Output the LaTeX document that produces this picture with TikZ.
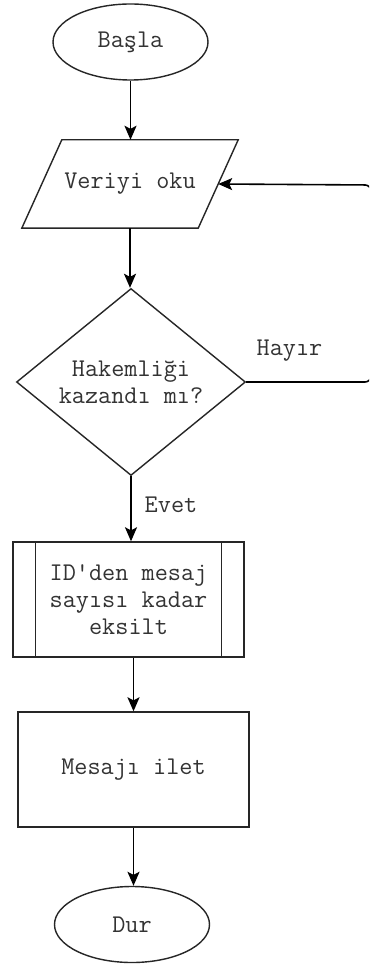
\documentclass[tikz,border=0pt]{standalone}
\usepackage{fontspec}
\usetikzlibrary{shapes.geometric,arrows.meta,calc}
\begin{document}
\begin{tikzpicture}[x=1pt,y=-1pt,
  txt/.style={font=\ttfamily\fontsize{25.5}{27}\selectfont, text=black!80},
  shp/.style={draw=black!85, line width=1.4pt},
  term/.style={txt, shp, ellipse, minimum width=155pt, minimum height=76pt, inner sep=0pt},
  procbox/.style={txt, shp, rectangle, minimum width=231pt, minimum height=115pt, inner sep=0pt, align=center},
  decis/.style={txt, shp, diamond, shape aspect=1.22, minimum width=229pt, minimum height=187pt, inner sep=0pt, align=center},
  arr/.style={draw=black, line width=1.6pt, -{Stealth[length=14pt,width=12pt,inset=3pt]}},
  lbl/.style={txt, inner sep=0pt}
]
\useasboundingbox (0,0) rectangle (369,965);
\clip (0,0) rectangle (369,965);
\fill[white] (0,0) rectangle (369,965);

\node[term] (start) at (130.5,42) {Başla};
\node[txt, rectangle, minimum width=216pt, minimum height=88pt, inner sep=0pt] (read) at (130,184) {Veriyi oku};
\draw[shp] ($(read.north west)+(40,0)$) -- (read.north east) -- ($(read.south east)+(-40,0)$) -- (read.south west) -- cycle;
\coordinate (rin) at ($(read.north east)!0.5!($(read.south east)+(-40,0)$)$);
\node[decis] (dia) at (131,382) {Hakemliği\\kazandı mı?};
\node[procbox] (sub) at (128.5,599.5) {ID'den mesaj\\sayısı kadar\\eksilt};
\draw[shp] ($(sub.north west)+(23,0)$) -- ($(sub.south west)+(23,0)$);
\draw[shp] ($(sub.north east)+(-23,0)$) -- ($(sub.south east)+(-23,0)$);
\node[procbox] (box) at (133.5,769.5) {Mesajı ilet};
\node[term] (stop) at (132,924.5) {Dur};

\node[lbl] (no) at (289.5,351) {Hayır};
\node[lbl] (yes) at (171,505) {Evet};

\draw[arr] (start.south) -- (start.south |- read.north);
\draw[arr] (read.south) -- (read.south |- dia.north);
\draw[arr] (dia.south) -- (dia.south |- sub.north);
\draw[arr] (box.north |- sub.south) -- (box.north);
\draw[arr] (box.south) -- (box.south |- stop.north);
\coordinate (c1) at (371,382);
\coordinate (c2) at (371,185);
\draw[arr, rounded corners=6pt] (dia.east) -- (c1) -- (c2) -- (rin);
\end{tikzpicture}
\end{document}
